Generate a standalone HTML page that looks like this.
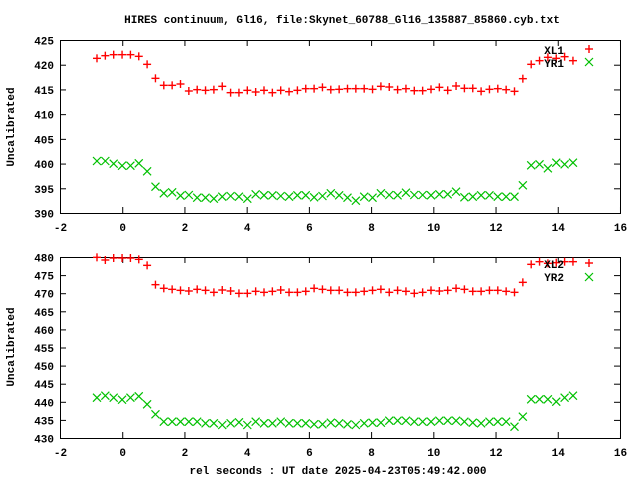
<!DOCTYPE html>
<html><head><meta charset="utf-8"><style>
body{margin:0;background:#fff}
svg{display:block}
text{font-family:"Liberation Mono",monospace;font-size:11px;font-weight:bold;fill:#000}
</style></head><body>
<svg id="s" width="640" height="480" xmlns="http://www.w3.org/2000/svg">
<text x="342" y="23" text-anchor="middle">HIRES continuum, Gl16, file:Skynet_60788_Gl16_135887_85860.cyb.txt</text>
<text x="338" y="474" text-anchor="middle">rel seconds : UT date 2025-04-23T05:49:42.000</text>
<text transform="translate(14,127) rotate(-90)" text-anchor="middle">Uncalibrated</text>
<text transform="translate(14,347) rotate(-90)" text-anchor="middle">Uncalibrated</text>
<rect x="60.5" y="40.5" width="560" height="173" fill="none" stroke="#000"/>
<rect x="60.5" y="257.5" width="560" height="181" fill="none" stroke="#000"/>
<g id="g"></g>
<text x="564" y="54" text-anchor="end">XL1</text>
<text x="564" y="67" text-anchor="end">YR1</text>
<text x="564" y="268" text-anchor="end">XL2</text>
<text x="564" y="281" text-anchor="end">YR2</text>
</svg>
<script>
var g=document.getElementById('g'),h='';
function L(a,b,c,d,col,w){h+='<line x1="'+a+'" y1="'+b+'" x2="'+c+'" y2="'+d+'" stroke="'+col+'" stroke-width="'+(w||1)+'"/>';}
function T(x,y,t,anc){h+='<text x="'+x+'" y="'+y+'" text-anchor="'+anc+'">'+t+'</text>';}
function plus(x,y){L(x-4,y,x+4,y,'#f00',1.4);L(x,y-4,x,y+4,'#f00',1.4);}
function cross(x,y){L(x-4,y-4,x+4,y+4,'#00c000',1.2);L(x-4,y+4,x+4,y-4,'#00c000',1.2);}
// x ticks
for(var k=0;k<=9;k++){var x=60.5+k*62.22;
 L(x,40,x,46,'#000');L(x,213,x,207,'#000');L(x,257,x,263,'#000');L(x,438,x,432,'#000');
 T(x,231,-2+2*k,'middle');T(x,456,-2+2*k,'middle');}
for(var k=0;k<=7;k++){var y=213.5-k*173/7;L(60,y,66,y,'#000');L(620,y,614,y,'#000');T(54,y+4,390+5*k,'end');}
for(var k=0;k<=10;k++){var y=438.5-k*18.1;L(60,y,66,y,'#000');L(620,y,614,y,'#000');T(54,y+4,430+5*k,'end');}
var r1=[55,47,44,44,44,49,73,115,136,136,132,153,149,151,149,139,158,158,151,156,151,158,151,155,151,146,146,142,149,148,146,146,146,148,139,141,149,146,152,152,148,142,151,138,145,145,154,148,146,149,154,116,73,62,52,55,50,62];
var g1=[363,363,371,377,377,370,394,440,460,457,467,465,473,473,476,470,468,470,476,463,466,466,468,470,466,466,472,468,460,466,473,482,470,473,460,465,466,458,465,465,466,463,463,455,472,470,466,466,470,470,470,436,376,373,385,368,373,368];
var r2=[22,30,24,24,24,28,46,104,115,118,121,123,118,121,127,120,123,130,130,124,127,124,120,127,127,124,115,118,121,121,127,127,124,121,118,127,121,124,130,127,121,123,121,115,118,124,124,121,121,124,127,97,43,35,40,38,35,35];
var g2=[443,437,443,449,443,439,463,493,515,515,515,515,515,520,520,525,520,517,525,515,520,520,515,520,520,520,523,523,518,520,523,525,520,518,518,512,512,512,515,515,515,512,512,512,515,518,520,515,515,515,530,500,448,448,448,455,443,437];
for(var i=0;i<58;i++){var x=97+i*8.35;
 plus(x,40+r1[i]/3);cross(x,40+g1[i]/3);plus(x,250+r2[i]/3);cross(x,250+g2[i]/3);}
plus(589,49);cross(589,62);plus(589,263);cross(589,277);
g.innerHTML=h;
</script>
</body></html>
